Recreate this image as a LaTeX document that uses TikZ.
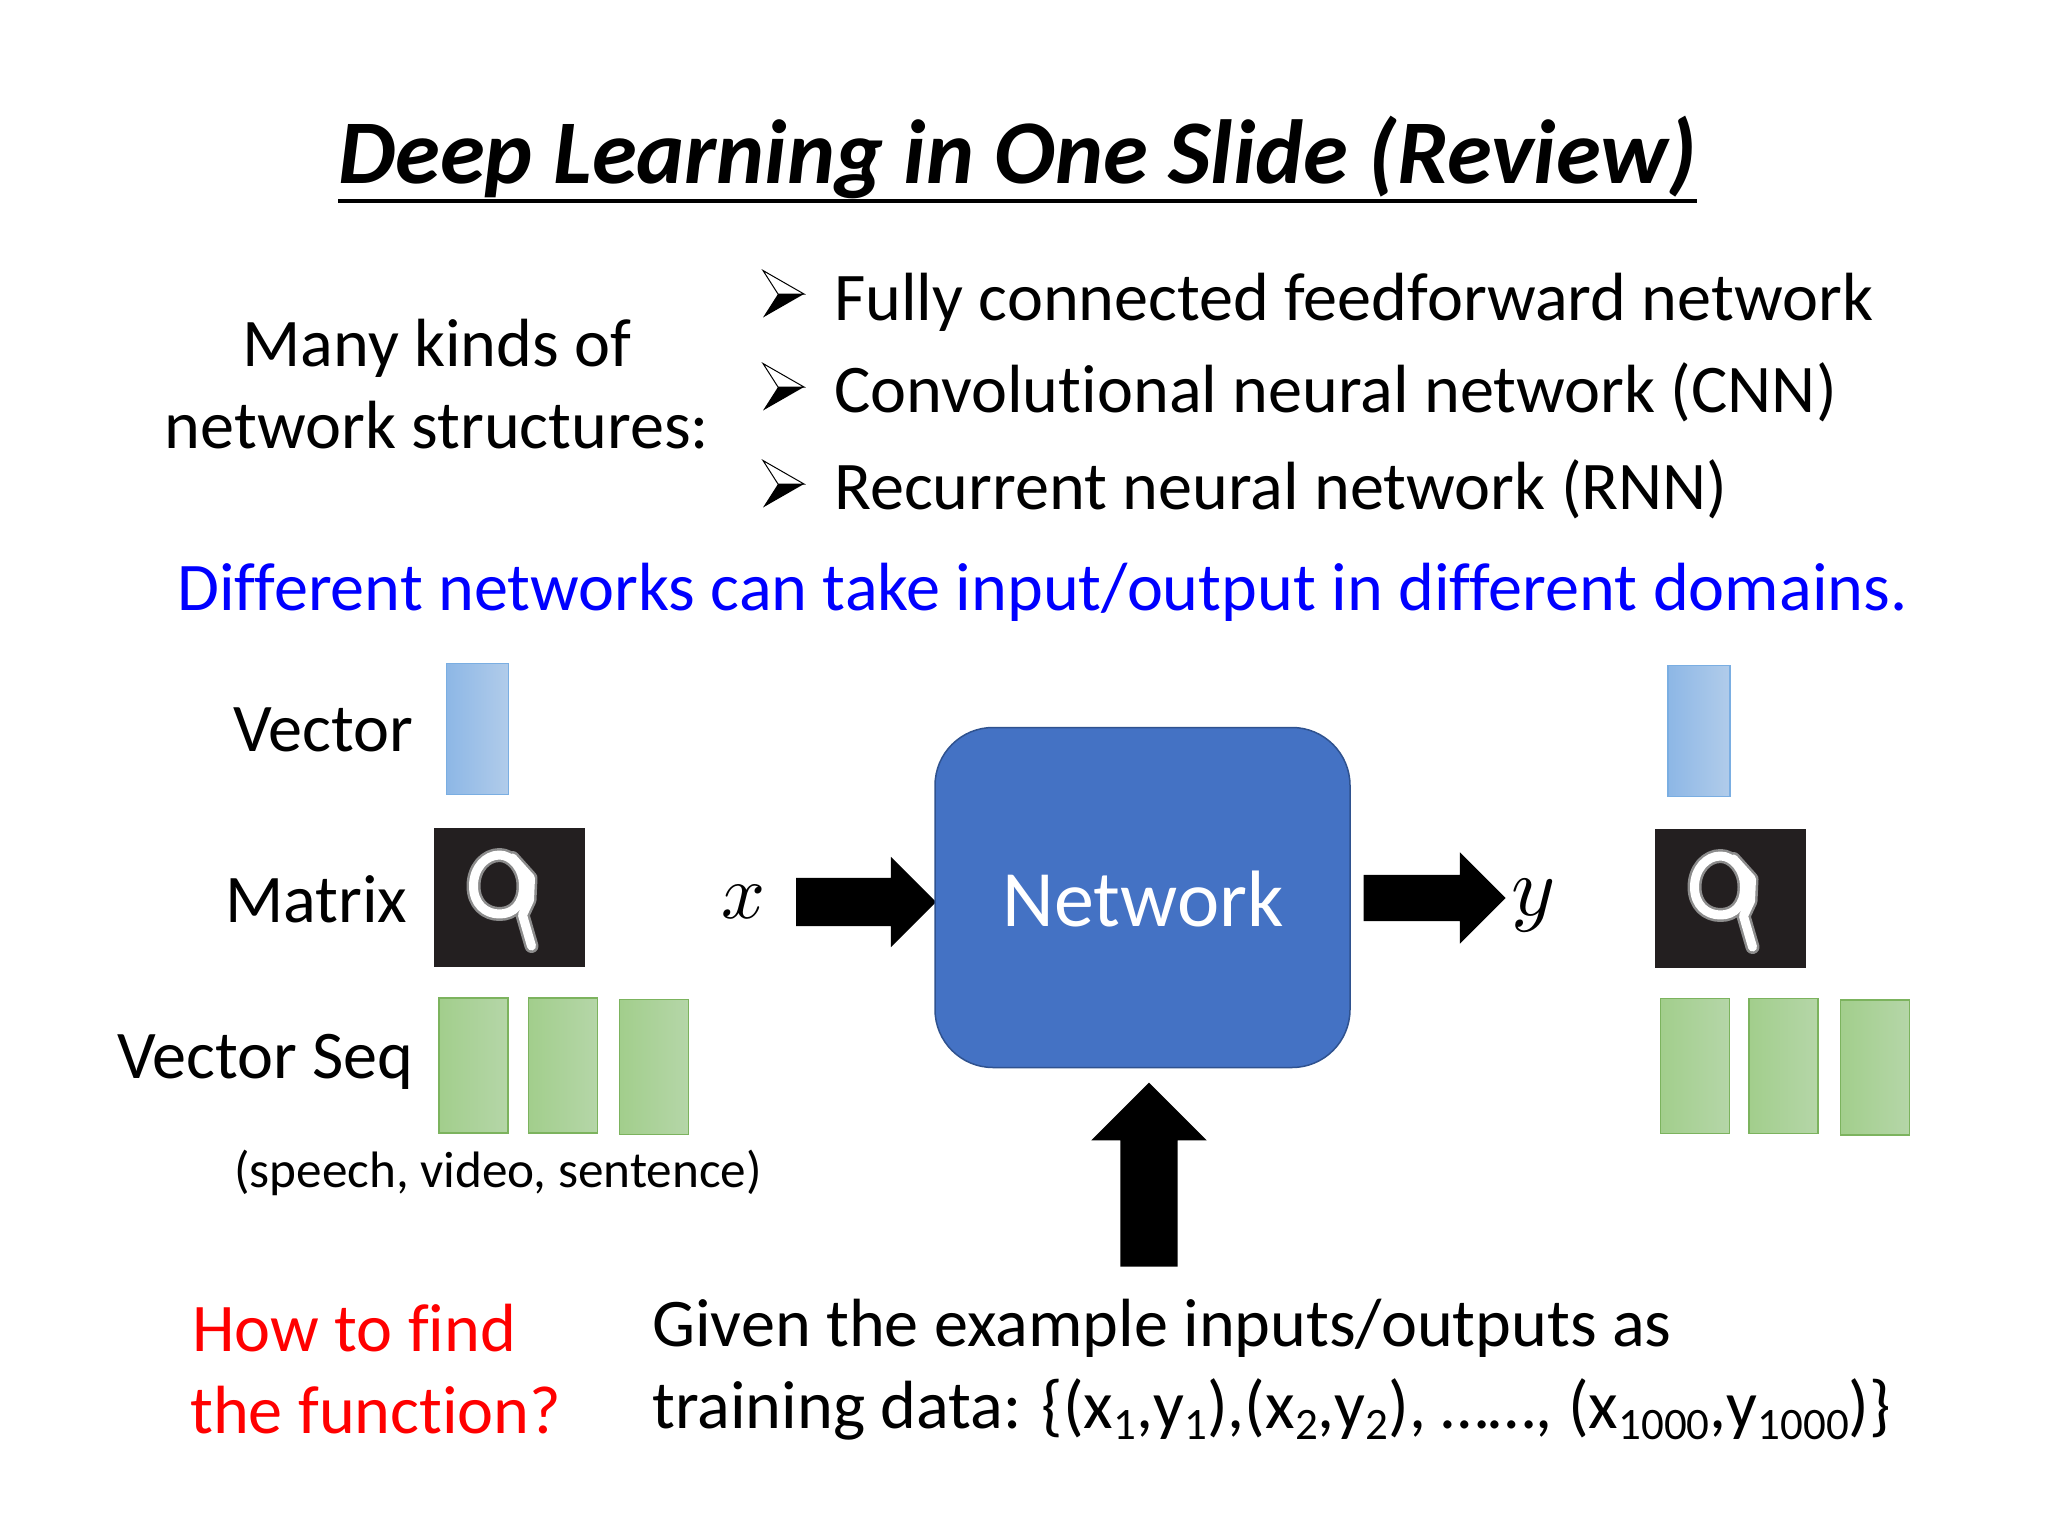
\documentclass[tikz,border=0pt]{standalone}
\usepackage{fontspec}
\usepackage{amsmath}
\usetikzlibrary{shapes.arrows}
\setmainfont[Ligatures=NoCommon]{Carlito}

\newcommand{\lowidx}[1]{\raisebox{-11pt}{\fontsize{45}{45}\selectfont #1}}

\definecolor{netblue}{HTML}{4472C4}
\definecolor{netedge}{HTML}{2F528F}
\definecolor{vecleft}{HTML}{8DB7E6}
\definecolor{vecright}{HTML}{B1CCEA}
\definecolor{vecedge}{HTML}{7AAEE2}
\definecolor{seqleft}{HTML}{A2CE8C}
\definecolor{seqright}{HTML}{B5D6A8}
\definecolor{seqedge}{HTML}{7CB35E}
\definecolor{imgdark}{HTML}{231F20}

\tikzset{
	txt/.style={anchor=base west,inner sep=0pt,font=\fontsize{68.2}{80}\selectfont},
	vecbox/.style={draw=vecedge,line width=1.2pt,left color=vecleft,right color=vecright,minimum width=62pt,minimum height=131pt,inner sep=0pt,outer sep=0pt},
	seqbox/.style={draw=seqedge,line width=1.2pt,left color=seqleft,right color=seqright,minimum width=69pt,minimum height=135pt,inner sep=0pt,outer sep=0pt},
	imgbox/.style={fill=imgdark,minimum width=151pt,minimum height=139pt,inner sep=0pt,outer sep=0pt},
	bigarrow/.style={single arrow,fill=black,inner xsep=0pt,outer sep=0pt},
	bul/.pic={
		\fill[black] (15,0) -- (-26,23.5) -- (-11,0) -- cycle;
		\draw[black,line width=1pt,line join=miter] (15,0) -- (-26,-23.5) -- (-11,0) -- cycle;
	},
	digit/.pic={
		\foreach \w/\c in {14/black!45,9/white}{
			\draw[\c,line width=\w pt,line cap=round,line join=round] (-36,-6) .. controls (-36,-24) and (-24,-37) .. (-10,-37) .. controls (2,-37) and (14,-24) .. (14,-6) .. controls (14,12) and (4,22) .. (-10,22) .. controls (-24,22) and (-36,12) .. (-36,-6);
			\draw[\c,line width=\w pt,line cap=round,line join=round] (3,-34) -- (21,-14) -- (20,8) -- (13,23) -- (22,54);
		}
	},
}

\begin{document}
\begin{tikzpicture}[x=1pt,y=-1pt]
	\useasboundingbox (0,0) rectangle (2048,1536);
	\fill[white] (0,0) rectangle (2048,1536);

	%------------------------------------------------------
	\node[txt,font=\fontsize{91}{108}\selectfont\bfseries\itshape] (title) at (338,183) {Deep Learning in One Slide (Review)};
	\draw[line width=4pt] ([yshift=-18pt]title.base west) -- ([yshift=-18pt]title.base east);
	%------------------------------------------------------


	%------------------------------------------------------
	\node[txt,anchor=base] (many) at (437,366) {Many kinds of};
	\node[txt,anchor=base] (kinds) at (437,448) {network structures:};

	\pic at (789,294) {bul};
	\node[txt] (fully) at (834,320) {Fully connected feedforward network};
	\pic at (789,387) {bul};
	\node[txt] (conv) at (834,412) {Convolutional neural network (CNN)};
	\pic at (789,484) {bul};
	\node[txt] (recur) at (834,509) {Recurrent neural network (RNN)};

	\node[txt,color=blue] (domains) at (177,610) {Different networks can take input/output in different domains.};
	%------------------------------------------------------


	%------------------------------------------------------
	\node[txt] (vector) at (233,751) {Vector};
	\node[txt] (matrix) at (225,922) {Matrix};
	\node[txt] (vecseq) at (117,1078) {Vector Seq};
	\node[txt,font=\fontsize{51.2}{60}\selectfont] (speech) at (234,1187) {(speech, video, sentence)};

	\node[vecbox] (vecin) at (477.5,729) {};
	\node[imgbox] (imgin) at (509.5,897.5) {};
	\pic at (509.5,892) {digit};
	\node[seqbox] (seqina) at (473.5,1065.5) {};
	\node[seqbox] (seqinb) at (563,1065.5) {};
	\node[seqbox] (seqinc) at (654,1067) {};
	%------------------------------------------------------


	%------------------------------------------------------
	\node[scale=7.7] (xin) at (743,902) {$x$};
	\node[bigarrow,minimum height=140pt,inner ysep=24pt,single arrow head extend=21pt] (xarrow) at (854,902) {};

	\node[draw=netedge,line width=1.5pt,fill=netblue,rounded corners=58pt,minimum width=415pt,minimum height=340pt,inner sep=0pt,outer sep=0pt] (network) at (1142.5,897.5) {};
	\node[txt,anchor=base,color=white,font=\fontsize{80}{96}\selectfont] (netlabel) at (1143,926) {Network};

	\node[bigarrow,minimum height=142pt,inner ysep=23pt,single arrow head extend=22.5pt] (yarrow) at (1423,898) {};
	\node[scale=8.4] (yout) at (1534,906) {$y$};

	\node[bigarrow,rotate=90,minimum height=184pt,inner ysep=28.5pt,single arrow head extend=29pt] (datarrow) at (1149,1189) {};
	%------------------------------------------------------


	%------------------------------------------------------
	\node[vecbox] (vecout) at (1699,731) {};
	\node[imgbox] (imgout) at (1730.5,898.5) {};
	\pic at (1730.5,893) {digit};
	\node[seqbox] (seqouta) at (1695,1066) {};
	\node[seqbox] (seqoutb) at (1783.5,1066) {};
	\node[seqbox] (seqoutc) at (1875,1067.5) {};
	%------------------------------------------------------


	%------------------------------------------------------
	\node[txt,color=red] (howto) at (192,1351) {How to find};
	\node[txt,color=red] (func) at (190,1433) {the function?};

	\node[txt] (given) at (652,1346) {Given the example inputs/outputs as};
	\node[txt] (train) at (652,1428) {training data: \{(x\lowidx{1},y\lowidx{1}),(x\lowidx{2},y\lowidx{2}), ……, (x\lowidx{1000},y\lowidx{1000})\}};
	%------------------------------------------------------

\end{tikzpicture}
\end{document}
